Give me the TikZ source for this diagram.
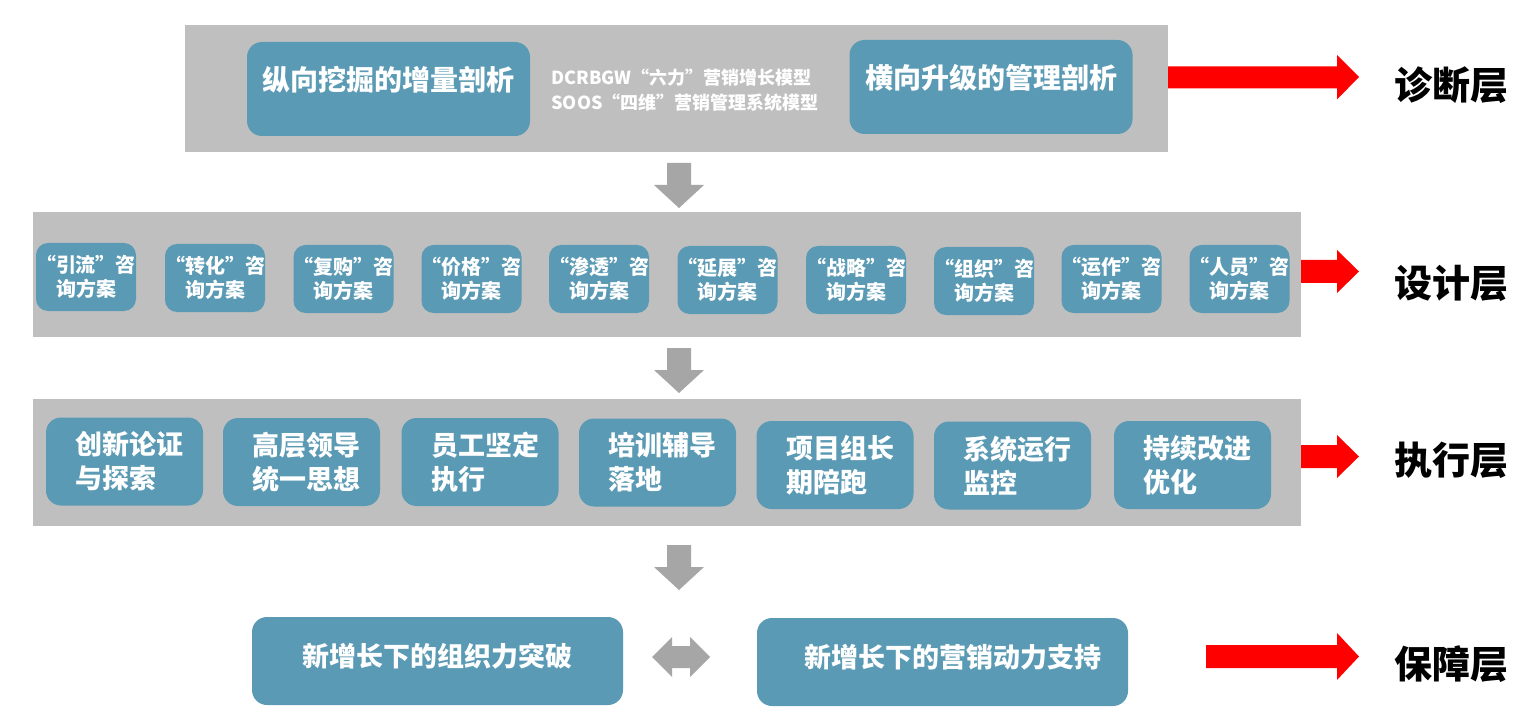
\documentclass[tikz,border=0pt]{standalone}
\usepackage{fontspec}
\setmainfont{Noto Sans CJK SC}
\definecolor{bandgray}{HTML}{BFBFBF}
\definecolor{boxblue}{HTML}{5A9AB4}
\definecolor{arrowgray}{HTML}{A6A6A6}
\definecolor{redarrow}{HTML}{FF0000}
\newcommand{\twoline}[2]{\hspace*{7pt}\parbox{56pt}{#1\\#2}}
\begin{document}
\begin{tikzpicture}[x=0.5pt,y=-0.5pt,
  band/.style={fill=bandgray,draw=none,inner sep=0pt},
  bigbox/.style={fill=boxblue,rounded corners=7.5pt,text=white,font=\fontsize{14pt}{16pt}\selectfont\bfseries,
    inner sep=0pt,minimum width=141.5pt,minimum height=47pt,text height=11pt,text depth=9pt},
  smallbox/.style={fill=boxblue,rounded corners=6pt,text=white,font=\fontsize{10pt}{12pt}\selectfont\bfseries,
    inner sep=0pt,minimum width=47.5pt,minimum height=34pt,align=center},
  midbox/.style={fill=boxblue,rounded corners=7.5pt,text=white,font=\fontsize{13.5pt}{17pt}\selectfont\bfseries,
    inner sep=0pt,minimum width=78.5pt,minimum height=44pt,align=left},
  basebox/.style={fill=boxblue,rounded corners=7.5pt,text=white,font=\fontsize{13.5pt}{16pt}\selectfont\bfseries,
    inner sep=0pt,minimum width=185.5pt,minimum height=44pt,text height=11pt,text depth=6pt},
  layerlabel/.style={font=\fontsize{19pt}{21pt}\selectfont\bfseries,text=black,inner sep=0pt},
  redarr/.style={fill=redarrow,draw=none},
  grayarr/.style={fill=arrowgray,draw=none}]
\useasboundingbox (0,0) rectangle (1539,722);
\fill[white] (0,0) rectangle (1539,722);

% Layer 1
\node[band,minimum width=491.5pt,minimum height=63.5pt] (band1) at (676.5,88.5) {};
\node[bigbox] (a1) at (388.5,89) {纵向挖掘的增量剖析};
\node[bigbox] (a2) at (991,87) {横向升级的管理剖析};
\node[anchor=west,align=left,text=white,inner sep=0pt,font=\fontsize{9pt}{12.5pt}\selectfont\bfseries] (mid) at (551,90)
  {DCRBGW“六力”营销增长模型\\SOOS“四维”营销管理系统模型};

% Layer 2
\node[band,minimum width=634pt,minimum height=62.5pt] (band2) at (667,274.5) {};
\node[smallbox] (b1) at (86,277) {“引流”咨\\询方案};
\node[smallbox] (b2) at (215,278) {“转化”咨\\询方案};
\node[smallbox] (b3) at (343.5,279) {“复购”咨\\询方案};
\node[smallbox] (b4) at (471.5,279) {“价格”咨\\询方案};
\node[smallbox] (b5) at (599,279) {“渗透”咨\\询方案};
\node[smallbox] (b6) at (727.5,280) {“延展”咨\\询方案};
\node[smallbox] (b7) at (856,280) {“战略”咨\\询方案};
\node[smallbox] (b8) at (984,281) {“组织”咨\\询方案};
\node[smallbox] (b9) at (1111.5,279) {“运作”咨\\询方案};
\node[smallbox] (b10) at (1239.5,279) {“人员”咨\\询方案};

% Layer 3
\node[band,minimum width=634pt,minimum height=63.5pt] (band3) at (667,462.5) {};
\node[midbox] (c1) at (124.5,461.5) {\twoline{创新论证}{与探索}};
\node[midbox] (c2) at (301.5,462) {\twoline{高层领导}{统一思想}};
\node[midbox] (c3) at (480,462) {\twoline{员工坚定}{执行}};
\node[midbox] (c4) at (657.5,462.5) {\twoline{培训辅导}{落地}};
\node[midbox] (c5) at (835,465) {\twoline{项目组长}{期陪跑}};
\node[midbox] (c6) at (1012.5,465.5) {\twoline{系统运行}{监控}};
\node[midbox] (c7) at (1192.5,465) {\twoline{持续改进}{优化}};

% Layer 4
\node[basebox] (d1) at (437.5,661) {新增长下的组织力突破};
\node[basebox] (d2) at (942.5,662) {\hspace*{10pt}新增长下的营销动力支持};

% Layer labels
\node[layerlabel] (l1) at (1451,85) {诊断层};
\node[layerlabel] (l2) at (1451,283) {设计层};
\node[layerlabel] (l3) at (1451,460) {执行层};
\node[layerlabel] (l4) at (1451,664) {保障层};

% Red arrows
\fill[redarr] (1168,66.5) -- (1337,66.5) -- (1337,55) -- (1359,77) -- (1337,99.5) -- (1337,88.5) -- (1168,88.5) -- cycle;
\fill[redarr] (1301,260) -- (1337,260) -- (1337,250) -- (1359,271.5) -- (1337,293) -- (1337,283) -- (1301,283) -- cycle;
\fill[redarr] (1301,445) -- (1337,445) -- (1337,435) -- (1359,456.5) -- (1337,478) -- (1337,468) -- (1301,468) -- cycle;
\fill[redarr] (1206,645) -- (1337,645) -- (1337,633) -- (1359,656.5) -- (1337,680) -- (1337,668) -- (1206,668) -- cycle;

% Gray down arrows
\fill[grayarr] (667,163) -- (691,163) -- (691,185) -- (704,185) -- (679,208) -- (654,185) -- (667,185) -- cycle;
\fill[grayarr] (667,348) -- (691,348) -- (691,370) -- (704,370) -- (679,393) -- (654,370) -- (667,370) -- cycle;
\fill[grayarr] (667,545) -- (691,545) -- (691,567) -- (704,567) -- (679,590) -- (654,567) -- (667,567) -- cycle;

% Double arrow
\fill[grayarr] (652,657) -- (672,637) -- (672,646) -- (690,646) -- (690,637) -- (710,657) -- (690,677) -- (690,668) -- (672,668) -- (672,677) -- cycle;
\end{tikzpicture}
\end{document}
